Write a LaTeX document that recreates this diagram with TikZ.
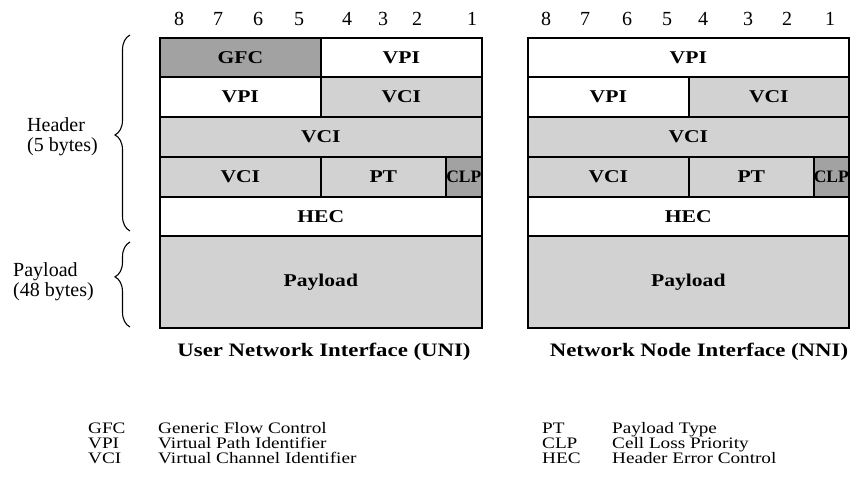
\documentclass[tikz,border=0pt]{standalone}
\usepackage{fontspec}
\setmainfont{Liberation Serif}
\newfontfamily\widefont[FakeStretch=1.2]{Liberation Serif}
\usetikzlibrary{decorations.pathreplacing}
\definecolor{darkcell}{HTML}{A2A2A2}
\definecolor{lightcell}{HTML}{D2D2D2}
\tikzset{
  cell/.style={draw=black, line width=1.6pt, inner sep=0pt, anchor=north west,
    font=\widefont\fontsize{18}{20}\selectfont\bfseries},
  smallcell/.style={cell, font=\fontsize{17.5}{18}\selectfont\bfseries},
  bitnum/.style={inner sep=0pt, font=\fontsize{20}{22}\selectfont},
  sidelbl/.style={align=left, anchor=west, inner sep=0pt, font=\fontsize{20}{20}\selectfont},
  title/.style={inner sep=0pt, font=\widefont\fontsize{19}{22}\selectfont\bfseries},
  legend/.style={anchor=base west, inner sep=0pt, font=\widefont\fontsize{16}{16}\selectfont},
  bracestyle/.style={line width=1.1pt, decorate, decoration={brace, amplitude=15pt}}
}
\begin{document}
\begin{tikzpicture}[x=1pt, y=-1pt]
\useasboundingbox (0,0) rectangle (850,479);

% ---- bit numbers ----
\foreach \n/\xa in {8/179, 7/218, 6/258, 5/299, 4/347, 3/383, 2/417, 1/472}
  \node[bitnum] (ub\n) at (\xa,19) {\n};
\foreach \n/\xa in {8/546, 7/585, 6/627, 5/667, 4/703, 3/748, 2/787, 1/830}
  \node[bitnum] (nb\n) at (\xa,19) {\n};

% ---- UNI cell ----
\node[cell, fill=darkcell,  minimum width=161pt, minimum height=39pt] (ugfc)  at (159,37)  {GFC};
\node[cell, fill=white,     minimum width=161pt, minimum height=39pt] (uvpia) at (320,37)  {VPI};
\node[cell, fill=white,     minimum width=161pt, minimum height=40pt] (uvpib) at (159,76)  {VPI};
\node[cell, fill=lightcell, minimum width=161pt, minimum height=40pt] (uvcia) at (320,76)  {VCI};
\node[cell, fill=lightcell, minimum width=322pt, minimum height=40pt] (uvcib) at (159,116) {VCI};
\node[cell, fill=lightcell, minimum width=161pt, minimum height=40pt] (uvcic) at (159,156) {VCI};
\node[cell, fill=lightcell, minimum width=125pt, minimum height=40pt] (upt)   at (320,156) {PT};
\node[smallcell, fill=darkcell, minimum width=36pt, minimum height=40pt] (uclp) at (445,156) {CLP};
\node[cell, fill=white,     minimum width=322pt, minimum height=39pt] (uhec)  at (159,196) {HEC};
\node[cell, fill=lightcell, minimum width=322pt, minimum height=92pt] (upay)  at (159,235) {Payload};

% ---- NNI cell ----
\node[cell, fill=white,     minimum width=321pt, minimum height=39pt] (nvpia) at (527,37)  {VPI};
\node[cell, fill=white,     minimum width=161pt, minimum height=40pt] (nvpib) at (527,76)  {VPI};
\node[cell, fill=lightcell, minimum width=160pt, minimum height=40pt] (nvcia) at (688,76)  {VCI};
\node[cell, fill=lightcell, minimum width=321pt, minimum height=40pt] (nvcib) at (527,116) {VCI};
\node[cell, fill=lightcell, minimum width=161pt, minimum height=40pt] (nvcic) at (527,156) {VCI};
\node[cell, fill=lightcell, minimum width=125pt, minimum height=40pt] (npt)   at (688,156) {PT};
\node[smallcell, fill=darkcell, minimum width=35pt, minimum height=40pt] (nclp) at (813,156) {CLP};
\node[cell, fill=white,     minimum width=321pt, minimum height=39pt] (nhec)  at (527,196) {HEC};
\node[cell, fill=lightcell, minimum width=321pt, minimum height=92pt] (npay)  at (527,235) {Payload};

% ---- braces and their labels ----
\coordinate (hbot) at (130,231);
\coordinate (htop) at (130,35);
\coordinate (pbot) at (130,327);
\coordinate (ptop) at (130,242);
\draw[bracestyle, decoration={aspect=0.49}] (hbot) -- (htop);
\draw[bracestyle, decoration={aspect=0.59}] (pbot) -- (ptop);
\node[sidelbl] (hdr) at (27,137) {Header\\(5 bytes)};
\node[sidelbl] (pld) at (13,282) {Payload\\(48 bytes)};

% ---- captions ----
\node[title] (uni) at (324,352) {User Network Interface (UNI)};
\node[title] (nni) at (699,352) {Network Node Interface (NNI)};

% ---- abbreviations ----
\node[legend] (lgfc) at (88,433) {GFC};
\node[legend] (lvpi) at (88,448) {VPI};
\node[legend] (lvci) at (88,463) {VCI};
\node[legend] (dgfc) at (158,433) {Generic Flow Control};
\node[legend] (dvpi) at (158,448) {Virtual Path Identifier};
\node[legend] (dvci) at (158,463) {Virtual Channel Identifier};
\node[legend] (lpt)  at (542,433) {PT};
\node[legend] (lclp) at (542,448) {CLP};
\node[legend] (lhec) at (542,463) {HEC};
\node[legend] (dpt)  at (612,433) {Payload Type};
\node[legend] (dclp) at (612,448) {Cell Loss Priority};
\node[legend] (dhec) at (612,463) {Header Error Control};
\end{tikzpicture}
\end{document}
